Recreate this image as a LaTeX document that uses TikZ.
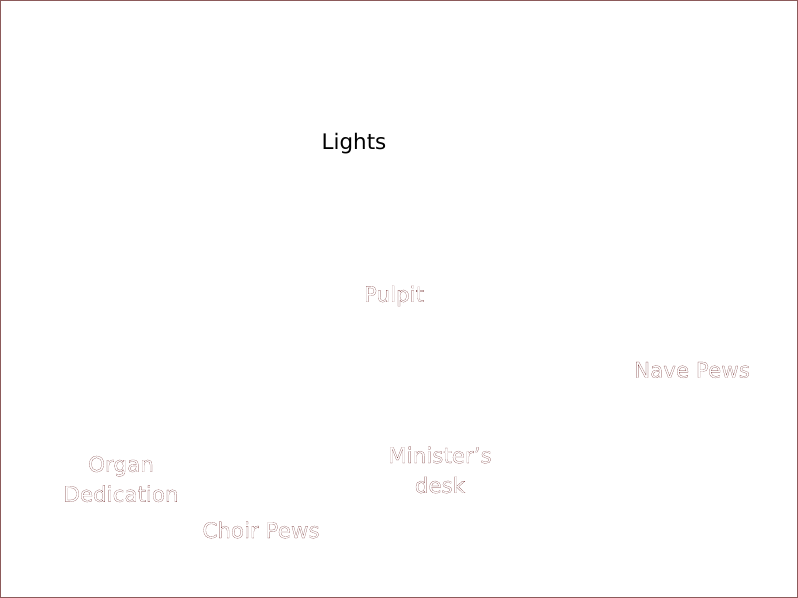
\documentclass[tikz,border=0pt]{standalone}
\usepackage{fontspec}
\setmainfont{DejaVu Sans}
\definecolor{frame}{RGB}{140,90,90}
\definecolor{ghost}{RGB}{110,40,40}
\newcommand{\outlined}[1]{\special{pdf:literal direct 1 Tr 0.12 w}#1\special{pdf:literal direct 0 Tr}}
\begin{document}
\begin{tikzpicture}[x=1bp,y=-1bp,
  lbl/.style={font=\fontsize{21.5}{30}\selectfont, inner sep=0pt, align=center},
  ghostlbl/.style={lbl, text=ghost}]
\useasboundingbox (0,0) rectangle (798,598);
\draw[frame, line width=1bp] (0.5,0.5) rectangle (797.5,597.5);
\node[lbl] (lights) at (354,144) {Lights};
\node[ghostlbl] (pulpit) at (394,296) {\outlined{Pulpit}};
\node[ghostlbl] (nave) at (692,370) {\outlined{Nave Pews}};
\node[ghostlbl] (desk) at (440,470) {\outlined{Minister's}\\\outlined{desk}};
\node[ghostlbl] (organ) at (121,479) {\outlined{Organ}\\\outlined{Dedication}};
\node[ghostlbl] (choir) at (261,530) {\outlined{Choir Pews}};
\end{tikzpicture}
\end{document}
